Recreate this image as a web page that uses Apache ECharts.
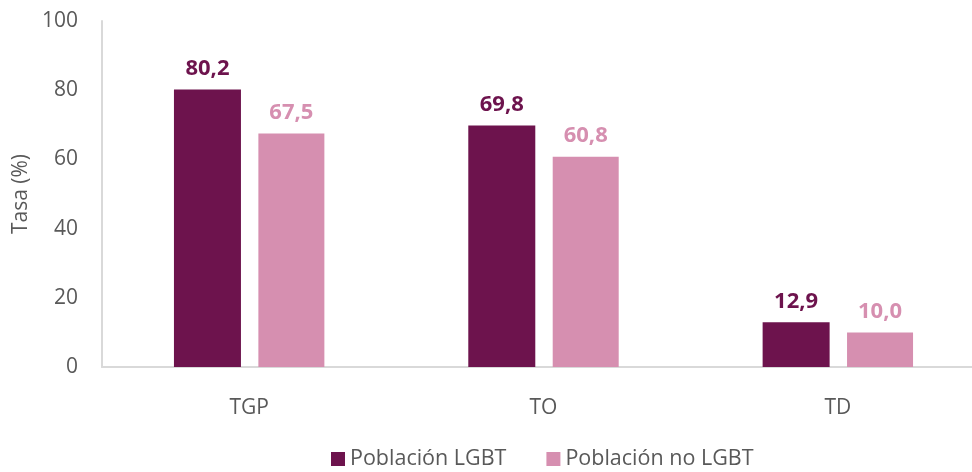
<!DOCTYPE html>
<html>
<head>
<meta charset="utf-8">
<script src="https://cdn.jsdelivr.net/npm/echarts@6/dist/echarts.min.js"></script>
<style>
  html, body { margin: 0; padding: 0; background: #fff; }
  #chart { width: 972px; height: 472px; }
</style>
</head>
<body>
<div id="chart"></div>
<script>
const categories = ['TGP', 'TO', 'TD'];
const seriesNames = ['Población LGBT', 'Población no LGBT'];
const lgbtValues = [80.2, 69.8, 12.9];
const noLgbtValues = [67.5, 60.8, 10.0];
const colors = ['#6d134d', '#d68fb0'];

const font = '"Open Sans", "Noto Sans", sans-serif';

const chart = echarts.init(document.getElementById('chart'));

const fmt = p => p.value.toFixed(1).replace('.', ',');

const option = {
  backgroundColor: '#fff',
  textStyle: { fontFamily: font },
  legend: {
    bottom: -3,
    left: 326,
    itemWidth: 14,
    itemHeight: 14,
    itemGap: 40,
    icon: 'rect',
    textStyle: { fontSize: 21.5, color: '#595959', fontFamily: font },
    data: seriesNames
  },
  grid: { left: 102, width: 883, top: 21, bottom: 105, outerBoundsMode: 'none' },
  xAxis: {
    type: 'category',
    data: categories,
    axisLine: { lineStyle: { color: '#d9d9d9', width: 2 } },
    axisTick: { show: false },
    axisLabel: { fontSize: 21, color: '#595959', margin: 31 }
  },
  yAxis: {
    type: 'value',
    min: 0,
    max: 100,
    interval: 20,
    name: 'Tasa (%)',
    nameLocation: 'middle',
    nameGap: 55,
    nameRotate: 90,
    nameTextStyle: { fontSize: 21, color: '#595959' },
    axisLine: { show: true, lineStyle: { color: '#d9d9d9', width: 2 } },
    axisTick: { show: false },
    splitLine: { show: false },
    axisLabel: { fontSize: 21, color: '#595959', margin: 24 }
  },
  series: [
    {
      name: seriesNames[0],
      type: 'bar',
      data: lgbtValues,
      barWidth: 67,
      barGap: '26%',
      itemStyle: { color: colors[0] },
      label: {
        show: true, position: 'top', distance: 10, formatter: fmt,
        fontSize: 22, fontWeight: 'bold', color: colors[0]
      }
    },
    {
      name: seriesNames[1],
      type: 'bar',
      data: noLgbtValues,
      barWidth: 66,
      itemStyle: { color: colors[1] },
      label: {
        show: true, position: 'top', distance: 10, formatter: fmt,
        fontSize: 22, fontWeight: 'bold', color: colors[1]
      }
    }
  ]
};

chart.setOption(option);
window.addEventListener('resize', () => chart.resize());
</script>
</body>
</html>
